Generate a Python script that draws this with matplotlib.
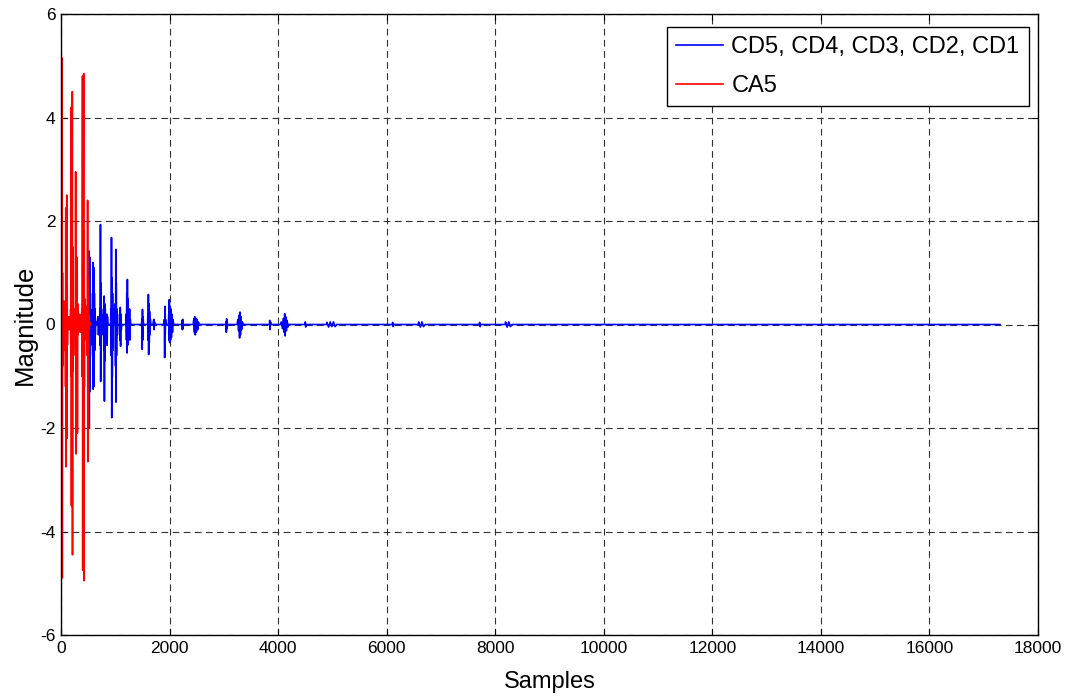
import matplotlib
matplotlib.use("Agg")
import matplotlib.pyplot as plt

# Approximation coefficients (level 5): sample index / coefficient value
ca5_n = [0, 4, 8, 12, 16, 20, 24, 28, 32, 36, 42, 50, 58, 62, 68, 78, 84, 88, 92, 96,
         100, 106, 110, 114, 118, 126, 136, 146, 152, 160, 170, 178, 184, 188, 192, 196,
         202, 208, 212, 216, 220, 226, 234, 244, 252, 260, 266, 270, 274, 278, 284, 292,
         298, 302, 306, 312, 322, 334, 344, 352, 362, 372, 384, 390, 396, 400, 404, 408,
         414, 418, 422, 426, 430, 436, 444, 452, 460, 466, 472, 480, 486, 490, 494, 498,
         504, 512, 520, 530, 540]
ca5_v = [0, 1.25, -2.3, 0.6, -0.9, 5.15, -4.9, 1.0, -0.8, 0.3, -0.3, 0.1, 0.45, -0.5,
         0.05, 0.4, -1.2, 2.25, -2.75, 1.5, -1.0, 2.5, -2.2, 0.8, -0.4, 0.1, -0.05, 0.15,
         -0.1, 0.05, -0.05, 0.3, -1.0, 4.2, -3.5, 1.2, -0.8, 4.5, -4.45, 1.5, -0.9, 0.3,
         -0.1, 0.15, -0.1, 0.3, -0.6, 2.95, -2.5, 0.8, -0.5, 0.3, 1.3, -2.1, 0.4, -0.2,
         0.1, -0.1, 0.2, -0.15, 0.1, -0.05, 0.3, -1.0, 4.8, -4.75, 1.5, -1.0, 2.0, 4.85,
         -4.95, 1.8, -1.2, 0.5, -0.2, 0.1, 0.35, -0.3, 0.1, 0.2, -0.6, 2.4, -2.65, 0.9,
         -0.5, 0.2, -0.1, 0.05, 0]

# Detail coefficients CD5..CD1 concatenated: sample index / coefficient value
cd_n = [0, 505, 509, 513, 517, 521, 525, 529, 533, 537, 541, 546, 552, 560, 570,
        580, 584, 588, 592, 596, 600, 605, 610, 615, 620, 626, 632, 640, 660, 680, 690, 700, 710,
        718, 722, 727, 731, 735, 740, 746, 752, 760,
        782, 786, 790, 795, 800, 805, 810, 815, 822, 830,
        841, 845, 850, 856, 862,
        916, 920, 925, 930, 935, 940, 945, 950, 956, 962, 970,
        996, 1000, 1005, 1010, 1014, 1018, 1023, 1030, 1038, 1046,
        1076, 1080, 1086, 1092, 1098, 1104, 1110, 1120,
        1196, 1200, 1206, 1212, 1218, 1223, 1228, 1234, 1240, 1248, 1256, 1264, 1270, 1276, 1285,
        1486, 1490, 1496, 1501, 1506, 1512, 1520,
        1596, 1600, 1605, 1610, 1615, 1620, 1626, 1632, 1638, 1646, 1655,
        1696, 1700, 1710, 1716, 1722, 1730,
        1901, 1905, 1910, 1915, 1920, 1926, 1935,
        1981, 1985, 1990, 1996, 2002, 2010, 2018, 2026, 2034, 2044, 2054, 2064, 2075,
        2226, 2230, 2236, 2242, 2248, 2256,
        2436, 2440, 2450, 2458, 2466, 2474, 2484, 2494, 2506, 2518, 2530, 2545,
        3036, 3040, 3046, 3052, 3058, 3066,
        3246, 3250, 3262, 3272, 3282, 3290, 3298, 3306, 3316, 3328, 3342, 3355,
        3841, 3845, 3852, 3860, 3868,
        4056, 4060, 4080, 4100, 4112, 4122, 4130, 4140, 4152, 4166, 4180, 4195,
        4496, 4500, 4508, 4516,
        4896, 4900, 4930, 4960, 4990, 5020, 5050, 5080,
        6106, 6110, 6120, 6130,
        6586, 6590, 6620, 6650, 6680, 6710,
        7708, 7712, 7722, 7732,
        8186, 8190, 8220, 8250, 8280, 8310,
        17300]
cd_v = [0, 0, 0.5, -0.9, 1.42, -2.0, 1.1, -1.3, 1.3, -0.8, 0.6, -0.4, 0.2, -0.1, 0,
        0.3, -0.6, 1.2, -1.25, 0.7, -0.9, 1.1, -1.2, 0.6, -0.5, 0.3, -0.2, 0.05, 0, 0.15, -0.2, 0.1, 0,
        0.3, -0.4, 1.93, -1.1, 0.8, -0.6, 0.3, -0.2, 0,
        0, 0.2, -0.5, 0.55, -1.48, 0.4, -0.7, 0.3, -0.2, 0,
        0, 0.2, -0.4, 0.15, 0,
        0, 0.3, -0.6, 1.68, -1.8, 0.9, -1.0, 0.6, -0.5, 0.3, 0,
        0, 0.4, -0.8, 1.45, -1.5, 0.8, -0.6, 0.3, -0.2, 0,
        0, 0.2, -0.3, 0.33, -0.42, 0.2, -0.1, 0,
        0, 0.2, -0.3, 0.6, -0.55, 0.87, -0.4, 0.5, -0.3, 0.2, -0.15, 0.3, -0.3, 0.1, 0,
        0, 0.1, -0.48, 0.29, -0.3, 0.15, 0,
        0, 0.2, -0.3, 0.58, -0.58, 0.4, -0.35, 0.25, -0.2, 0.1, 0,
        0, 0.05, 0.1, -0.1, 0.05, 0,
        0, 0.1, -0.64, 0.35, -0.2, 0.1, 0,
        0, 0.2, -0.3, 0.48, -0.35, 0.35, -0.3, 0.3, -0.25, 0.2, -0.15, 0.1, 0,
        0, 0.08, -0.1, 0.1, -0.08, 0,
        0, 0.05, 0.12, -0.15, 0.15, -0.2, 0.12, -0.15, 0.1, -0.1, 0.05, 0,
        0, 0.05, -0.15, 0.11, -0.08, 0,
        0, 0.05, 0.1, -0.12, 0.18, -0.26, 0.24, -0.2, 0.15, -0.1, 0.05, 0,
        0, 0.08, -0.1, 0.05, 0,
        0, 0.05, -0.08, 0.12, -0.15, 0.21, -0.22, 0.15, -0.12, 0.08, -0.05, 0,
        0, 0.05, -0.05, 0,
        0, 0.04, -0.05, 0.05, -0.04, 0.05, -0.04, 0,
        0, 0.04, -0.04, 0,
        0, 0.05, -0.05, 0.05, -0.04, 0,
        0, 0.04, -0.04, 0,
        0, 0.05, -0.05, 0.05, -0.04, 0,
        0]

x_ticks = [0, 2000, 4000, 6000, 8000, 10000, 12000, 14000, 16000, 18000]
y_ticks = [-6, -4, -2, 0, 2, 4, 6]

plt.rcParams['font.family'] = ['Liberation Sans', 'DejaVu Sans']

fig = plt.figure(figsize=(10.68, 6.97), dpi=100)
ax = fig.add_axes([61 / 1068, 1 - 635 / 697, 977 / 1068, 621 / 697])

ax.plot(cd_n, cd_v, color='#0000ff', lw=1.2, label='CD5, CD4, CD3, CD2, CD1')
ax.plot(ca5_n, ca5_v, color='#ff0000', lw=1.2, label='CA5')

ax.set_xlim(0, 18000)
ax.set_ylim(-6, 6)
ax.set_xticks(x_ticks)
ax.set_yticks(y_ticks)
ax.set_xticklabels([str(t) for t in x_ticks])
ax.set_yticklabels([str(t) for t in y_ticks])

ax.grid(True, color='#303030', lw=0.8, linestyle=(0, (6, 4)))
ax.tick_params(direction='in', top=True, right=True, length=4, width=0.8,
               labelsize=12.5, pad=4)
for s in ax.spines.values():
    s.set_linewidth(1.0)
    s.set_color('black')

ax.set_xlabel('Samples', fontsize=17, labelpad=11)
ax.set_ylabel('Magnitude', fontsize=18.5, labelpad=2)

leg = ax.legend(loc='upper right', bbox_to_anchor=(1029 / 1068, 1 - 27 / 697),
                bbox_transform=fig.transFigure, borderaxespad=0, fontsize=17,
                handlelength=2.0, handletextpad=0.35, labelspacing=0.7,
                borderpad=0.4, fancybox=False, framealpha=1)
leg.get_frame().set_edgecolor('black')
leg.get_frame().set_linewidth(1.0)

fig.savefig('out.png', dpi=100)
